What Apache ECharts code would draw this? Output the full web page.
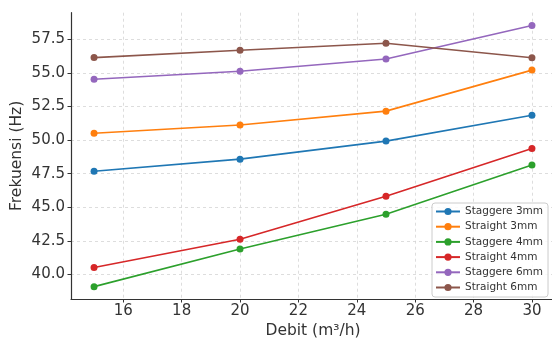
<!DOCTYPE html>
<html><head><meta charset="utf-8">
<script src="https://cdn.jsdelivr.net/npm/echarts@6/dist/echarts.min.js"></script>
<style>html,body{margin:0;padding:0;background:#fff}#c{width:552px;height:341px}</style>
</head><body><div id="c"></div>
<script>
const debit = [15, 20, 25, 30];
const staggere3 = [47.68, 48.58, 49.92, 51.84];
const straight3 = [50.50, 51.12, 52.15, 55.20];
const staggere4 = [39.10, 41.90, 44.48, 48.14];
const straight4 = [40.52, 42.62, 45.82, 49.38];
const staggere6 = [54.52, 55.12, 56.03, 58.52];
const straight6 = [56.13, 56.68, 57.20, 56.12];
const seriesNames = ['Staggere 3mm','Straight 3mm','Staggere 4mm','Straight 4mm','Staggere 6mm','Straight 6mm'];
const seriesData = [staggere3, straight3, staggere4, straight4, staggere6, straight6];
const colors = ['#1f77b4','#ff7f0e','#2ca02c','#d62728','#9467bd','#8c564b'];
const xTicks = [16, 18, 20, 22, 24, 26, 28, 30];
const yTicks = [40, 42.5, 45, 47.5, 50, 52.5, 55, 57.5];

const chart = echarts.init(document.getElementById('c'));
const gridLine = {show: true, lineStyle: {color: '#d5d5d5', type: [3, 3], width: 0.8}};
chart.setOption({
  animation: false,
  color: colors,
  textStyle: {fontFamily: 'DejaVu Sans'},
  grid: {left: 71, top: 12.7, width: 484, height: 286.3, containLabel: false, outerBoundsMode: 'none'},
  xAxis: {
    type: 'value', min: 14.21, max: 30.79,
    name: 'Debit (m³/h)', nameLocation: 'middle', nameGap: 24, nameMoveOverlap: false,
    nameTextStyle: {fontSize: 15.5, color: '#333'},
    axisLine: {show: true, lineStyle: {color: '#333', width: 1.2}},
    axisTick: {show: true, inside: false, length: 3.5, customValues: xTicks, lineStyle: {color: '#333'}},
    axisLabel: {customValues: xTicks, fontSize: 15, color: '#333', margin: 5},
    splitLine: gridLine
  },
  yAxis: {
    type: 'value', min: 38.18, max: 59.47,
    name: 'Frekuensi (Hz)', nameLocation: 'middle', nameGap: 46, nameMoveOverlap: false,
    nameTextStyle: {fontSize: 15.5, color: '#333'},
    axisLine: {show: true, lineStyle: {color: '#333', width: 1.2}},
    axisTick: {show: true, inside: false, length: 3.5, customValues: yTicks, lineStyle: {color: '#333'}},
    axisLabel: {customValues: yTicks, fontSize: 15, color: '#333', margin: 6,
      formatter: v => v.toFixed(1)},
    splitLine: gridLine
  },
  legend: {
    orient: 'vertical', left: 432, top: 203,
    data: seriesNames,
    itemWidth: 24, itemHeight: 9, itemGap: 4.2,
    padding: [3, 5, 4, 3],
    borderColor: '#ccc', borderWidth: 1, borderRadius: 3,
    backgroundColor: 'rgba(255,255,255,0.85)',
    textStyle: {fontSize: 10.5, color: '#333'}
  },
  series: seriesNames.map((n, i) => ({
    name: n, type: 'line',
    data: debit.map((x, j) => [x, seriesData[i][j]]),
    symbol: 'circle', symbolSize: 7,
    lineStyle: {width: 1.6},
    itemStyle: {color: colors[i]}
  }))
});
</script></body></html>
